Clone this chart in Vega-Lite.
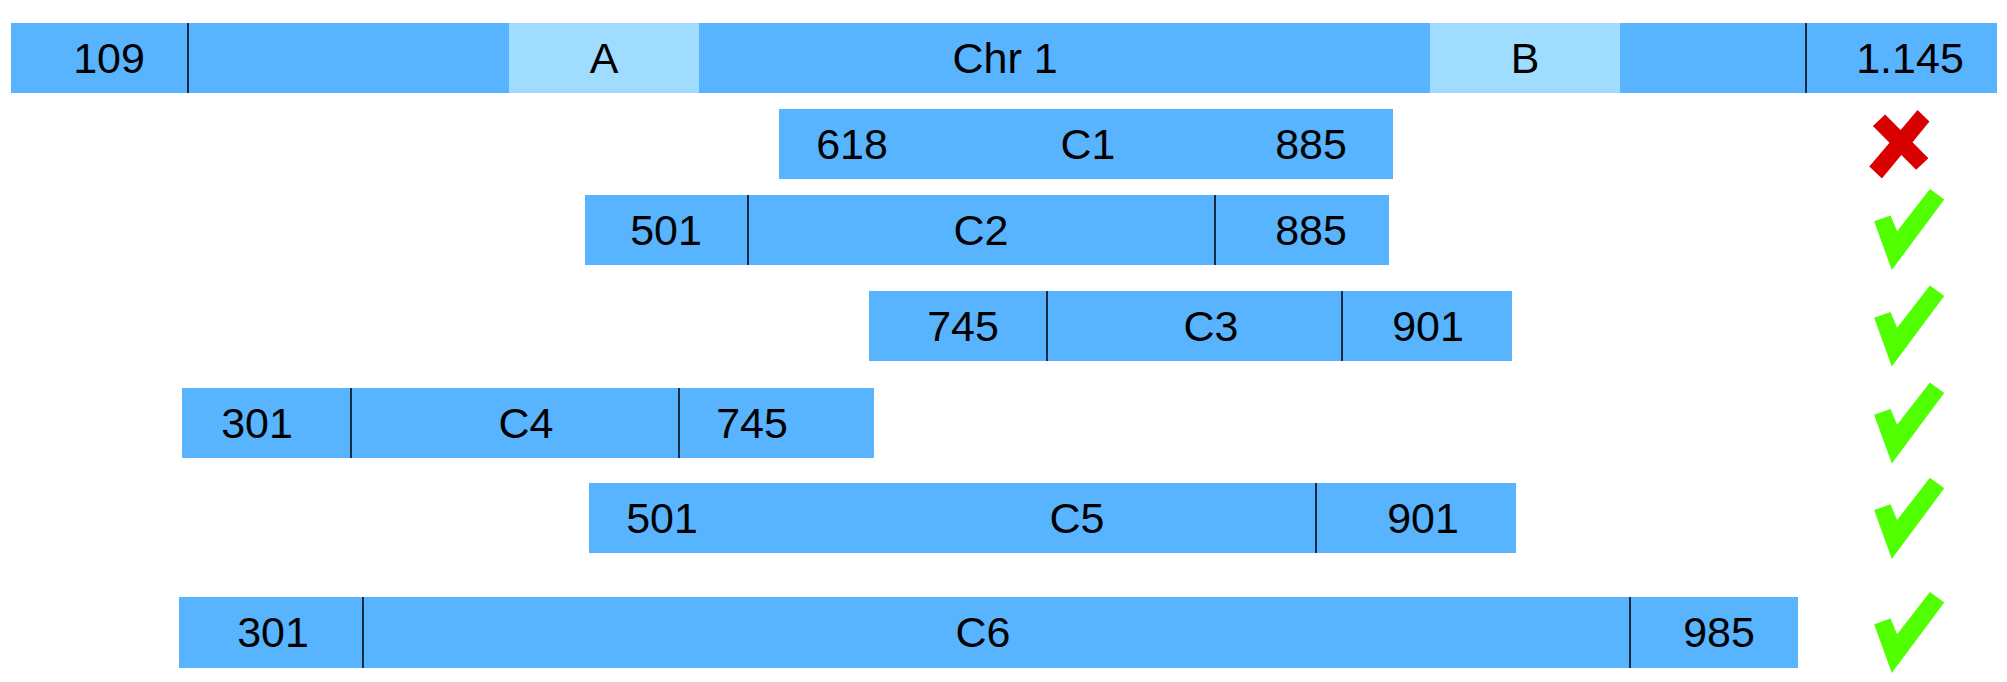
{
  "$schema": "https://vega.github.io/schema/vega-lite/v6.json",
  "width": 2007,
  "height": 682,
  "autosize": {"type": "fit", "contains": "padding"},
  "padding": 0,
  "background": "white",
  "config": {"view": {"stroke": null}},
  "datasets": {
    "segments": [
      {"track": "Chr 1", "kind": "main", "x0": 11, "x1": 1997, "y0": 23, "y1": 93},
      {"track": "Chr 1", "kind": "region", "x0": 509, "x1": 699, "y0": 23, "y1": 93},
      {"track": "Chr 1", "kind": "region", "x0": 1430, "x1": 1620, "y0": 23, "y1": 93},
      {"track": "C1", "kind": "main", "x0": 779, "x1": 1393, "y0": 109, "y1": 179},
      {"track": "C2", "kind": "main", "x0": 585, "x1": 1389, "y0": 195, "y1": 265},
      {"track": "C3", "kind": "main", "x0": 869, "x1": 1512, "y0": 291, "y1": 361},
      {"track": "C4", "kind": "main", "x0": 182, "x1": 874, "y0": 388, "y1": 458},
      {"track": "C5", "kind": "main", "x0": 589, "x1": 1516, "y0": 483, "y1": 553},
      {"track": "C6", "kind": "main", "x0": 179, "x1": 1798, "y0": 597, "y1": 668}
    ],
    "dividers": [
      {"track": "Chr 1", "x": 188, "y0": 23, "y1": 93},
      {"track": "Chr 1", "x": 1806, "y0": 23, "y1": 93},
      {"track": "C2", "x": 748, "y0": 195, "y1": 265},
      {"track": "C2", "x": 1215, "y0": 195, "y1": 265},
      {"track": "C3", "x": 1047, "y0": 291, "y1": 361},
      {"track": "C3", "x": 1342, "y0": 291, "y1": 361},
      {"track": "C4", "x": 351, "y0": 388, "y1": 458},
      {"track": "C4", "x": 679, "y0": 388, "y1": 458},
      {"track": "C5", "x": 1316, "y0": 483, "y1": 553},
      {"track": "C6", "x": 363, "y0": 597, "y1": 668},
      {"track": "C6", "x": 1630, "y0": 597, "y1": 668}
    ],
    "labels": [
      {"text": "109", "x": 109, "y": 58},
      {"text": "A", "x": 604, "y": 58},
      {"text": "Chr 1", "x": 1005, "y": 58},
      {"text": "B", "x": 1525, "y": 58},
      {"text": "1.145", "x": 1910, "y": 58},
      {"text": "618", "x": 852, "y": 144},
      {"text": "C1", "x": 1088, "y": 144},
      {"text": "885", "x": 1311, "y": 144},
      {"text": "501", "x": 666, "y": 230},
      {"text": "C2", "x": 981, "y": 230},
      {"text": "885", "x": 1311, "y": 230},
      {"text": "745", "x": 963, "y": 326},
      {"text": "C3", "x": 1211, "y": 326},
      {"text": "901", "x": 1428, "y": 326},
      {"text": "301", "x": 257, "y": 423},
      {"text": "C4", "x": 526, "y": 423},
      {"text": "745", "x": 752, "y": 423},
      {"text": "501", "x": 662, "y": 518},
      {"text": "C5", "x": 1077, "y": 518},
      {"text": "901", "x": 1423, "y": 518},
      {"text": "301", "x": 273, "y": 632},
      {"text": "C6", "x": 983, "y": 632},
      {"text": "985", "x": 1719, "y": 632}
    ],
    "status": [
      {"track": "C1", "status": "fail", "x": 1901, "y": 142.5},
      {"track": "C2", "status": "pass", "x": 1909, "y": 229.5},
      {"track": "C3", "status": "pass", "x": 1909, "y": 326},
      {"track": "C4", "status": "pass", "x": 1909, "y": 423},
      {"track": "C5", "status": "pass", "x": 1909, "y": 518.3},
      {"track": "C6", "status": "pass", "x": 1909, "y": 632.5}
    ]
  },
  "layer": [
    {
      "data": {"name": "segments"},
      "mark": {"type": "rect"},
      "encoding": {
        "x": {"field": "x0", "type": "quantitative", "axis": null, "scale": {"domain": [0, 2007], "nice": false, "zero": false}},
        "x2": {"field": "x1"},
        "y": {"field": "y0", "type": "quantitative", "axis": null, "scale": {"domain": [0, 682], "nice": false, "zero": false, "reverse": true}},
        "y2": {"field": "y1"},
        "color": {"field": "kind", "type": "nominal", "legend": null, "scale": {"domain": ["main", "region"], "range": ["#58B4FF", "#A0DCFF"]}}
      }
    },
    {
      "data": {"name": "dividers"},
      "mark": {"type": "rule", "color": "#000000", "strokeWidth": 1.5},
      "encoding": {
        "x": {"field": "x", "type": "quantitative"},
        "y": {"field": "y0", "type": "quantitative"},
        "y2": {"field": "y1"}
      }
    },
    {
      "data": {"name": "labels"},
      "mark": {"type": "text", "font": "Liberation Sans", "fontSize": 43, "color": "#000000", "align": "center", "baseline": "middle", "dy": 2},
      "encoding": {
        "x": {"field": "x", "type": "quantitative"},
        "y": {"field": "y", "type": "quantitative"},
        "text": {"field": "text", "type": "nominal"}
      }
    },
    {
      "data": {"name": "status"},
      "transform": [{"filter": "datum.status === 'pass'"}],
      "mark": {"type": "point", "filled": true, "color": "#50FF00", "opacity": 1, "strokeWidth": 0, "size": 6724,
        "shape": "M-0.85,-0.2L-0.45,-0.34L-0.29,0.04L0.51,-0.99L0.86,-0.73L-0.42,0.99Z"},
      "encoding": {
        "x": {"field": "x", "type": "quantitative"},
        "y": {"field": "y", "type": "quantitative"}
      }
    },
    {
      "data": {"name": "status"},
      "transform": [{"filter": "datum.status === 'fail'"}],
      "mark": {"type": "point", "filled": true, "color": "#D90000", "opacity": 1, "strokeWidth": 0, "size": 5184,
        "shape": "M-0.78,-0.46L-0.44,-0.78L-0.01,-0.35L0.46,-0.9L0.79,-0.58L0.32,-0.01L0.76,0.44L0.42,0.76L0.01,0.35L-0.53,1L-0.88,0.67L-0.32,0.01Z"},
      "encoding": {
        "x": {"field": "x", "type": "quantitative"},
        "y": {"field": "y", "type": "quantitative"}
      }
    }
  ]
}
